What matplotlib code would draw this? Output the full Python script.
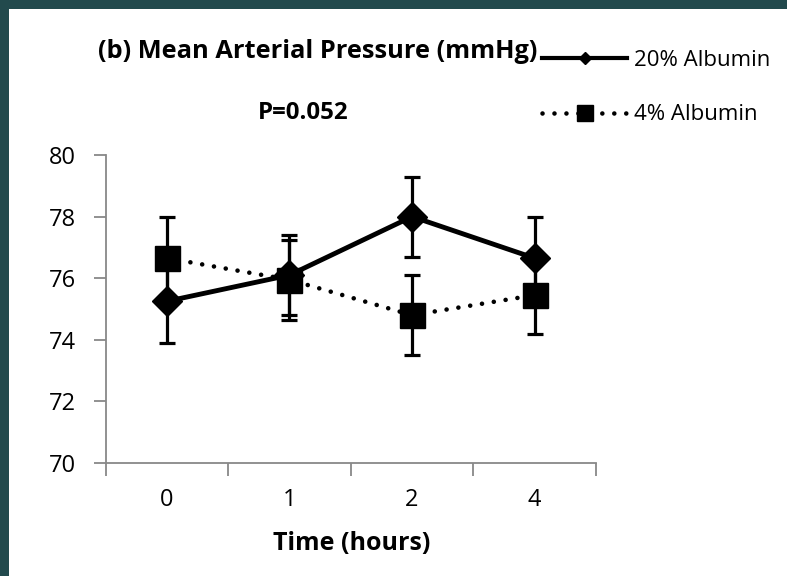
import matplotlib
matplotlib.use("Agg")
import matplotlib.pyplot as plt
from matplotlib.lines import Line2D
from matplotlib.patches import Rectangle

# ---- data ----
time_labels = ["0", "1", "2", "4"]
alb20_mean = [75.25, 76.1, 78.0, 76.65]
alb20_err = [1.35, 1.3, 1.3, 1.33]
alb4_mean = [76.65, 75.95, 74.8, 75.45]
alb4_err = [1.33, 1.3, 1.3, 1.25]
yticks = [70, 72, 74, 76, 78, 80]

plt.rcParams['font.family'] = ['Open Sans', 'DejaVu Sans']

W, H = 787, 576
fig = plt.figure(figsize=(W / 100, H / 100), dpi=100)
fig.patch.set_facecolor("#224a4d")
fig.patches.append(Rectangle((9 / W, 0), 1, 1 - 9 / H, transform=fig.transFigure,
                             facecolor="white", edgecolor="none", zorder=-10))

ax = fig.add_axes([105.5 / W, 1 - 463 / H, (596 - 105.5) / W, (463 - 155) / H])
ax.set_facecolor("none")
x = list(range(len(time_labels)))

dots = (0, (0.01, 2.6))
ax.errorbar(x, alb4_mean, yerr=alb4_err, color="black", lw=3.3,
            linestyle=dots, dash_capstyle="round",
            marker="s", markersize=18, elinewidth=2.3, capsize=6, capthick=2.3, zorder=3)
ax.errorbar(x, alb20_mean, yerr=alb20_err, color="black", lw=3.5,
            marker="D", markersize=15, elinewidth=2.3, capsize=6, capthick=2.3, zorder=4)

ax.set_xlim(-0.5, len(x) - 0.5)
ax.set_ylim(70, 80)
ax.set_yticks(yticks)
ax.set_xticks(x)
ax.set_xticklabels(time_labels)
ax.set_xticks([i - 0.5 for i in range(len(x) + 1)], minor=True)
ax.tick_params(axis="x", which="major", length=0, pad=18, labelsize=17)
ax.tick_params(axis="x", which="minor", length=9, width=1.3, color="#888888", direction="out")
ax.tick_params(axis="y", length=9, width=1.3, color="#888888", labelsize=17, pad=12)
for s in ["top", "right"]:
    ax.spines[s].set_visible(False)
for s in ["left", "bottom"]:
    ax.spines[s].set_color("#888888")
    ax.spines[s].set_linewidth(1.3)

fig.text(352 / W, 1 - 543 / H, "Time (hours)", fontsize=18, fontweight="bold",
         ha="center", va="center")

fig.text(98 / W, 1 - 52 / H, "(b) Mean Arterial Pressure (mmHg)", fontsize=18.3,
         fontweight="bold", ha="left", va="center")
fig.text(303 / W, 1 - 113 / H, "P=0.052", fontsize=17.3, fontweight="bold",
         ha="center", va="center")

h20 = Line2D([], [], color="black", lw=3, marker="D", markersize=6)
h4 = Line2D([], [], color="black", lw=3.3, linestyle=dots,
            dash_capstyle="round", marker="s", markersize=11)
leg = fig.legend([h20, h4], ["20% Albumin", "4% Albumin"], loc="upper left",
                 bbox_to_anchor=(542 / W, 1 - 50 / H), frameon=False, fontsize=16,
                 handlelength=3.83, handletextpad=0.3, labelspacing=1.5, borderpad=0,
                 borderaxespad=0)

fig.savefig("out.png", dpi=100, facecolor=fig.get_facecolor())
